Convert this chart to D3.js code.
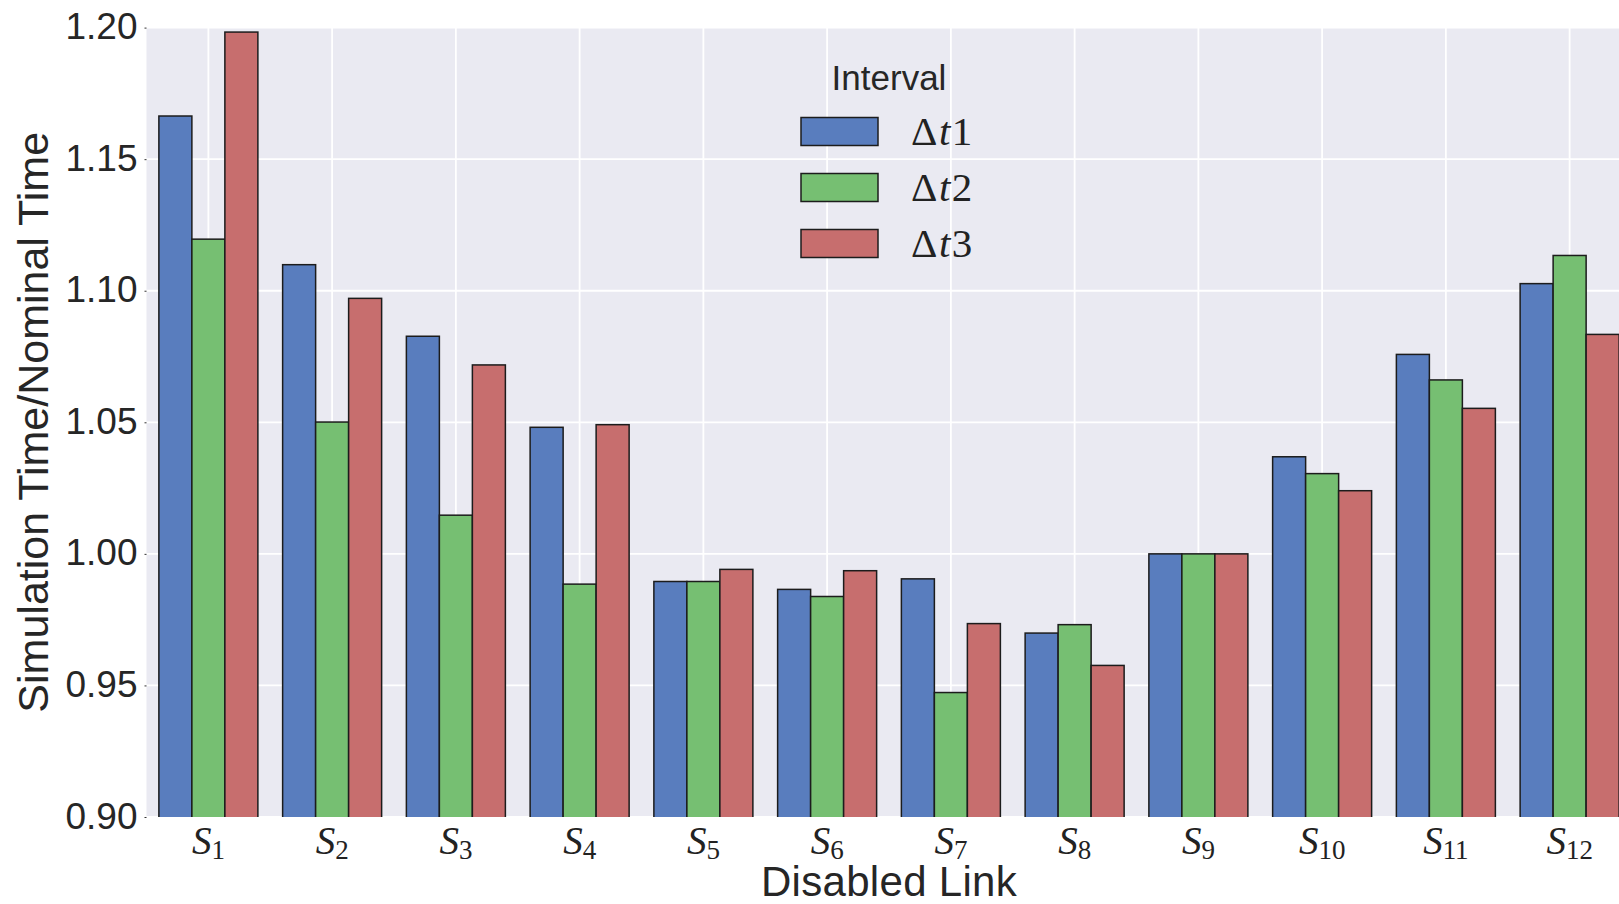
<!DOCTYPE html>
<html>
<head>
<meta charset="utf-8">
<script src="https://cdn.jsdelivr.net/npm/d3@7"></script>
<style>
  html, body { margin: 0; padding: 0; background: #ffffff; overflow: hidden; }
  svg { display: block; }
</style>
</head>
<body>
<svg id="chart" width="1619" height="904"></svg>
<script>
// ---- data ----
const categories = ["1","2","3","4","5","6","7","8","9","10","11","12"];
const seriesNames = ["1", "2", "3"];  // Δt1, Δt2, Δt3
const dt1 = [1.1664, 1.1099, 1.0827, 1.0481, 0.9895, 0.9865, 0.9905, 0.9699, 1.0000, 1.0369, 1.0758, 1.1027];
const dt2 = [1.1196, 1.0501, 1.0147, 0.9885, 0.9895, 0.9838, 0.9473, 0.9731, 1.0000, 1.0305, 1.0661, 1.1134];
const dt3 = [1.1983, 1.0971, 1.0718, 1.0491, 0.9941, 0.9936, 0.9735, 0.9576, 1.0000, 1.0240, 1.0553, 1.0834];
const yTicks = [0.90, 0.95, 1.00, 1.05, 1.10, 1.15, 1.20];
const colors = ["#597DBE", "#76BF72", "#C76E6E"];
const yLabel = "Simulation Time/Nominal Time";
const xLabel = "Disabled Link";
const legendTitle = "Interval";

const series = [dt1, dt2, dt3];

// ---- layout ----
const svg = d3.select("#chart");
const plot = { left: 146.5, right: 1631.5, top: 27.6, bottom: 817 };

const x = d3.scaleBand().domain(categories).range([plot.left, plot.right]).paddingInner(0.2).paddingOuter(0.1);
const xSub = d3.scaleBand().domain(seriesNames).range([0, x.bandwidth()]);
const y = d3.scaleLinear().domain([0.90, 1.20]).range([plot.bottom, plot.top]);

// background
svg.append("rect")
  .attr("x", plot.left).attr("y", plot.top)
  .attr("width", plot.right - plot.left).attr("height", plot.bottom - plot.top)
  .attr("fill", "#EAEAF2");

svg.append("clipPath").attr("id", "plotclip").append("rect")
  .attr("x", plot.left).attr("y", plot.top)
  .attr("width", plot.right - plot.left).attr("height", plot.bottom - plot.top);

// grid
const grid = svg.append("g");
grid.selectAll("line.h").data(yTicks).join("line")
  .attr("x1", plot.left).attr("x2", plot.right)
  .attr("y1", d => y(d)).attr("y2", d => y(d))
  .attr("stroke", "#ffffff").attr("stroke-width", 1.8);
grid.selectAll("line.v").data(categories).join("line")
  .attr("x1", d => x(d) + x.bandwidth() / 2).attr("x2", d => x(d) + x.bandwidth() / 2)
  .attr("y1", plot.top).attr("y2", plot.bottom)
  .attr("stroke", "#ffffff").attr("stroke-width", 1.8);

// bars
const barsG = svg.append("g").attr("clip-path", "url(#plotclip)");
categories.forEach((c, i) => {
  series.forEach((s, j) => {
    barsG.append("rect")
      .attr("x", x(c) + xSub(seriesNames[j]))
      .attr("width", xSub.bandwidth())
      .attr("y", y(s[i]))
      .attr("height", y(0.90) - y(s[i]) + 3)
      .attr("fill", colors[j])
      .attr("stroke", "#1c1c1c")
      .attr("stroke-width", 1.5);
  });
});

// y axis
const yAxis = d3.axisLeft(y).tickValues(yTicks).tickFormat(d3.format(".2f")).tickSize(2).tickPadding(7);
const yG = svg.append("g").attr("transform", `translate(${plot.left},0)`).call(yAxis);
yG.select(".domain").remove();
yG.selectAll(".tick line").attr("stroke", "#333").attr("stroke-width", 1);
yG.selectAll(".tick text")
  .attr("font-family", "'Liberation Sans', Arial, sans-serif")
  .attr("font-size", 37).attr("fill", "#262626")
  .attr("dy", "0.3em");

// x axis labels (S with subscript)
const xAxis = d3.axisBottom(x).tickSize(0).tickFormat("");
const xG = svg.append("g").attr("transform", `translate(0,${plot.bottom})`).call(xAxis);
xG.select(".domain").remove();
xG.selectAll(".tick").each(function(d) {
  const t = d3.select(this).append("text")
    .attr("y", 37)
    .attr("text-anchor", "middle")
    .attr("font-family", "'Liberation Serif', 'Times New Roman', serif")
    .attr("fill", "#222");
  t.append("tspan").attr("font-style", "italic").attr("font-size", 39).text("S");
  t.append("tspan").attr("font-size", 27).attr("dy", 5).text(d);
});

// axis titles
svg.append("text")
  .attr("transform", `translate(48,${(plot.top + plot.bottom) / 2}) rotate(-90)`)
  .attr("text-anchor", "middle")
  .attr("font-family", "'Liberation Sans', Arial, sans-serif")
  .attr("font-size", 43).attr("fill", "#262626")
  .text(yLabel);

svg.append("text")
  .attr("x", (plot.left + plot.right) / 2).attr("y", 896)
  .attr("text-anchor", "middle")
  .attr("font-family", "'Liberation Sans', Arial, sans-serif")
  .attr("font-size", 42).attr("letter-spacing", 0.3).attr("fill", "#262626")
  .text(xLabel);

// legend
const legend = svg.append("g");
const cx = (plot.left + plot.right) / 2;
legend.append("text")
  .attr("x", cx).attr("y", 90)
  .attr("text-anchor", "middle")
  .attr("font-family", "'Liberation Sans', Arial, sans-serif")
  .attr("font-size", 35).attr("fill", "#262626")
  .text(legendTitle);
seriesNames.forEach((n, j) => {
  const cy = 131.5 + j * 56;
  legend.append("rect")
    .attr("x", 801).attr("y", cy - 14)
    .attr("width", 77).attr("height", 28)
    .attr("fill", colors[j]).attr("stroke", "#1c1c1c").attr("stroke-width", 1.5);
  const t = legend.append("text")
    .attr("x", 911).attr("y", cy + 13)
    .attr("font-family", "'Liberation Serif', 'Times New Roman', serif")
    .attr("font-size", 41).attr("letter-spacing", 1.5).attr("fill", "#222");
  t.append("tspan").text("Δ");
  t.append("tspan").attr("font-style", "italic").text("t");
  t.append("tspan").text(n);
});
</script>
</body>
</html>
